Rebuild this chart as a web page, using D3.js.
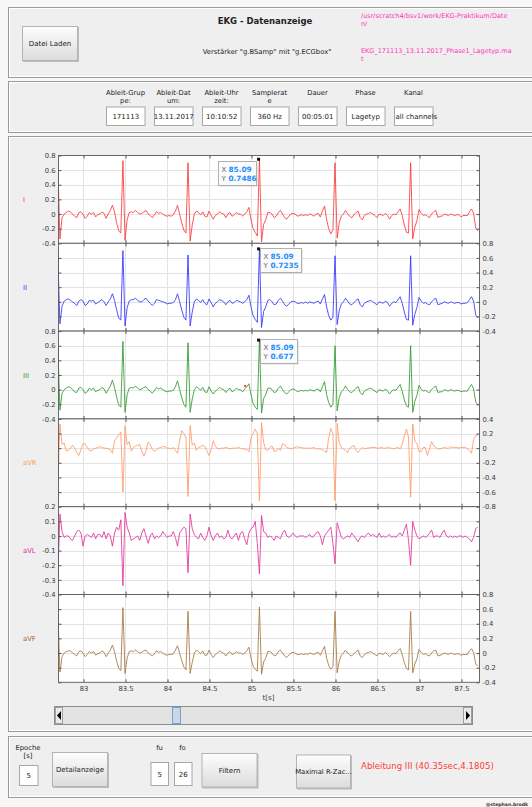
<!DOCTYPE html>
<html><head><meta charset="utf-8">
<script src="https://cdn.jsdelivr.net/npm/d3@7"></script>
<style>
html,body{margin:0;padding:0;background:#f7f7f7;}
svg{display:block;font-family:"DejaVu Sans",sans-serif;}
</style></head><body>
<svg id="c" width="532" height="807"></svg>
<script>
// ---------- DATA ----------
const sampleStart = 82.7;      // s
const samplePeriod = 0.025;    // s (display resampling of the 360 Hz record)
const leadI = [
0.66,-0.34,-0.05,0.00,0.02,0.04,0.03,0.00,-0.03,-0.05,
0.02,0.03,0.00,-0.06,-0.03,0.02,0.00,0.02,-0.04,-0.01,
0.00,0.03,0.01,-0.06,0.00,0.05,0.12,0.03,-0.12,-0.23,
-0.26,0.73,-0.36,-0.08,0.02,0.03,0.02,0.05,0.02,0.00,
0.01,0.03,0.05,0.00,-0.02,-0.05,-0.01,0.03,0.01,0.02,
0.00,-0.02,-0.03,-0.02,-0.03,-0.01,0.04,0.12,0.00,-0.12,
-0.22,-0.26,0.70,-0.37,-0.15,0.00,0.04,0.02,-0.01,0.03,
-0.03,-0.04,0.04,-0.02,-0.07,-0.02,0.00,0.03,0.01,0.00,
-0.05,0.00,0.02,-0.03,-0.01,0.02,0.00,0.00,-0.03,0.00,
0.03,0.09,-0.08,-0.20,-0.25,-0.30,0.75,-0.38,-0.14,-0.08,
0.02,0.02,0.00,-0.05,-0.03,0.02,0.05,0.00,-0.05,-0.07,
-0.03,0.00,0.01,0.00,-0.03,-0.02,-0.01,-0.02,-0.01,-0.02,
0.00,-0.01,-0.03,0.00,0.01,-0.04,0.04,0.11,-0.08,-0.20,
-0.27,-0.22,0.70,-0.33,-0.12,-0.03,0.00,0.05,0.00,-0.03,
-0.05,-0.01,0.02,0.04,-0.05,-0.08,-0.02,0.00,0.01,0.02,
0.00,-0.02,-0.05,0.00,-0.01,-0.02,0.01,-0.02,-0.07,-0.02,
0.00,-0.01,0.03,0.07,-0.02,-0.15,-0.25,-0.26,0.70,-0.34,
-0.18,-0.09,0.06,0.01,-0.02,-0.01,-0.03,-0.05,0.00,0.03,
0.05,-0.05,-0.03,-0.03,0.00,-0.01,-0.02,0.00,-0.01,-0.02,
-0.01,-0.01,-0.04,-0.02,-0.02,-0.02,0.03,0.07,0.01,-0.19,
-0.23];
const leadII = [
0.62,-0.30,-0.06,0.01,0.03,0.04,0.02,0.00,-0.02,-0.05,
0.01,0.03,0.01,-0.05,-0.03,0.02,0.01,0.02,-0.03,-0.01,
0.01,0.03,0.00,-0.05,0.00,0.04,0.11,0.02,-0.11,-0.22,
-0.25,0.70,-0.33,-0.08,0.01,0.03,0.03,0.05,0.02,0.00,
0.00,0.03,0.05,0.01,-0.02,-0.05,-0.02,0.03,0.02,0.01,
0.00,-0.01,-0.03,-0.02,-0.02,-0.01,0.03,0.11,0.00,-0.11,
-0.21,-0.25,0.64,-0.33,-0.14,0.00,0.04,0.02,-0.01,0.03,
-0.02,-0.04,0.04,-0.01,-0.07,-0.02,0.00,0.03,0.02,0.00,
-0.04,0.00,0.02,-0.02,-0.01,0.02,0.01,0.00,-0.02,0.00,
0.03,0.09,-0.07,-0.19,-0.24,-0.28,0.72,-0.35,-0.13,-0.07,
0.02,0.03,0.00,-0.04,-0.03,0.02,0.05,0.01,-0.04,-0.06,
-0.03,0.00,0.01,0.00,-0.02,-0.02,-0.01,-0.02,0.00,-0.02,
0.00,-0.01,-0.02,0.00,0.01,-0.03,0.04,0.10,-0.07,-0.19,
-0.25,-0.21,0.63,-0.31,-0.12,-0.03,0.00,0.05,0.01,-0.03,
-0.04,-0.01,0.02,0.04,-0.04,-0.07,-0.02,0.00,0.01,0.02,
0.00,-0.02,-0.04,0.00,-0.01,-0.02,0.01,-0.01,-0.06,-0.02,
0.00,-0.01,0.03,0.07,-0.02,-0.14,-0.24,-0.25,0.63,-0.32,
-0.17,-0.08,0.06,0.01,-0.02,-0.01,-0.03,-0.04,0.00,0.03,
0.05,-0.04,-0.03,-0.02,0.00,-0.01,-0.02,0.00,-0.01,-0.02,
-0.01,-0.01,-0.03,-0.02,-0.02,-0.01,0.03,0.07,0.01,-0.18,
-0.22];
const leadIII = [
0.61,-0.28,-0.05,0.00,0.02,0.04,0.03,0.00,-0.03,-0.04,
0.02,0.03,0.00,-0.05,-0.03,0.02,0.00,0.02,-0.03,-0.01,
0.00,0.03,0.01,-0.05,0.00,0.05,0.13,0.03,-0.10,-0.21,
-0.24,0.66,-0.31,-0.07,0.02,0.03,0.02,0.05,0.02,0.00,
0.01,0.03,0.04,0.00,-0.02,-0.05,-0.01,0.03,0.01,0.02,
0.00,-0.02,-0.03,-0.02,-0.02,-0.01,0.04,0.12,0.00,-0.11,
-0.20,-0.24,0.64,-0.31,-0.13,0.00,0.04,0.02,-0.01,0.03,
-0.03,-0.04,0.04,-0.02,-0.06,-0.02,0.00,0.03,0.01,0.00,
-0.04,0.00,0.02,-0.03,-0.01,0.02,0.00,0.00,-0.03,0.01,
0.04,0.08,-0.07,-0.19,-0.24,-0.27,0.68,-0.32,-0.12,-0.07,
0.02,0.02,0.00,-0.04,-0.03,0.02,0.05,0.00,-0.04,-0.06,
-0.03,0.00,0.01,0.00,-0.03,-0.02,-0.01,-0.02,-0.01,-0.02,
0.00,-0.01,-0.02,0.00,0.01,-0.03,0.04,0.11,-0.07,-0.18,
-0.24,-0.20,0.60,-0.29,-0.11,-0.03,0.00,0.05,0.00,-0.03,
-0.04,-0.01,0.02,0.04,-0.04,-0.07,-0.02,0.00,0.01,0.02,
0.00,-0.02,-0.04,0.00,-0.01,-0.02,0.01,-0.02,-0.06,-0.02,
0.00,-0.01,0.03,0.07,-0.02,-0.14,-0.22,-0.24,0.60,-0.31,
-0.16,-0.08,0.06,0.01,-0.02,-0.01,-0.03,-0.04,0.00,0.03,
0.05,-0.04,-0.03,-0.03,0.00,-0.01,-0.02,0.00,-0.01,-0.02,
-0.01,-0.01,-0.03,-0.02,-0.02,-0.02,0.03,0.07,0.01,-0.17,
-0.21];
const leadAVR = [
-0.55,0.33,0.05,0.07,-0.04,-0.03,0.00,0.04,0.00,-0.06,
-0.10,-0.02,0.06,0.06,0.01,-0.03,-0.04,-0.01,0.00,0.01,
0.02,0.01,0.00,0.00,-0.01,-0.02,-0.07,0.10,0.14,0.18,
0.22,-0.60,0.30,0.05,0.09,-0.04,0.01,0.03,0.04,0.05,
-0.04,-0.11,-0.04,0.08,0.05,-0.02,-0.04,-0.02,0.00,0.01,
0.02,0.02,0.00,0.00,-0.01,0.01,-0.03,-0.07,0.10,0.24,
0.20,0.15,-0.66,0.31,0.04,0.07,-0.03,0.01,0.02,0.04,
0.02,-0.04,-0.10,-0.02,0.10,0.03,-0.01,-0.01,0.00,0.00,
0.01,0.00,-0.01,0.00,0.00,0.00,0.01,0.00,-0.01,-0.01,
-0.02,-0.05,0.15,0.20,0.26,0.20,-0.72,0.35,0.08,-0.02,
-0.03,0.01,0.03,-0.04,-0.04,0.00,-0.03,0.06,0.05,0.01,
0.00,-0.01,0.00,0.01,0.02,0.01,0.01,0.00,0.00,0.00,
0.00,0.00,0.01,-0.01,-0.01,-0.01,-0.02,-0.04,-0.06,0.14,
0.27,0.20,-0.72,0.34,0.08,0.01,-0.01,-0.03,-0.06,0.00,
0.02,0.04,-0.03,-0.06,-0.02,0.01,-0.01,0.00,0.00,0.01,
0.01,0.01,0.00,0.00,0.01,0.00,0.00,0.01,0.00,0.00,
-0.01,0.00,0.01,-0.01,0.05,0.17,0.26,0.15,-0.67,0.33,
0.10,0.06,-0.04,-0.05,0.01,0.01,-0.10,-0.01,0.09,0.03,
0.01,-0.01,-0.01,0.00,0.01,0.00,0.00,0.02,0.01,0.01,
0.01,0.00,0.01,0.01,0.01,-0.01,-0.03,-0.07,0.12,0.17,
0.18];
const leadAVL = [
-0.28,0.15,0.03,-0.01,0.00,0.00,-0.02,-0.03,0.00,0.03,
0.04,0.02,-0.07,0.00,0.01,0.00,-0.01,0.02,-0.02,0.01,
0.01,-0.01,0.03,-0.02,0.02,0.00,-0.07,0.02,0.06,0.04,
0.11,-0.34,0.16,0.06,0.02,-0.03,-0.02,-0.01,0.00,-0.03,
0.02,0.05,0.00,-0.05,0.00,0.02,-0.02,0.00,-0.01,0.00,
0.03,0.01,-0.01,0.00,0.00,0.03,-0.01,-0.07,0.02,0.04,
0.06,0.05,-0.25,0.15,0.05,0.01,-0.01,-0.02,0.02,-0.01,
-0.03,0.00,0.06,0.00,-0.03,0.00,0.02,-0.01,0.00,-0.02,
-0.01,0.04,-0.01,-0.02,0.00,0.02,-0.03,0.02,0.03,-0.02,
-0.06,0.02,0.05,0.06,0.10,-0.05,-0.26,0.14,0.03,0.02,
-0.01,0.00,-0.01,-0.03,0.00,-0.01,-0.02,0.02,0.04,0.00,
-0.01,0.00,0.02,0.00,-0.01,0.00,0.00,0.00,-0.01,0.00,
0.01,-0.01,0.00,0.02,0.03,0.00,-0.06,0.00,0.02,0.04,
0.06,-0.05,-0.19,0.09,0.04,-0.01,-0.02,-0.01,0.00,-0.01,
0.02,0.00,-0.02,-0.04,-0.01,0.00,-0.01,0.01,0.02,0.00,
0.01,0.00,-0.01,0.02,-0.01,0.00,-0.01,0.00,0.01,-0.01,
0.00,-0.01,0.01,0.02,0.00,0.04,0.08,-0.03,-0.20,0.10,
0.04,0.00,-0.02,-0.01,0.00,-0.01,0.00,0.02,0.04,-0.01,
0.00,0.00,-0.01,0.02,0.04,0.00,-0.01,0.00,-0.01,0.00,
-0.01,0.00,0.00,-0.01,0.00,-0.01,-0.02,-0.04,-0.01,0.05,
0.06];
const leadAVF = [
0.58,-0.26,-0.05,0.00,0.02,0.03,0.03,0.00,-0.02,-0.04,
0.02,0.03,0.00,-0.05,-0.02,0.02,0.00,0.02,-0.03,-0.01,
0.00,0.03,0.01,-0.05,0.00,0.04,0.11,0.02,-0.11,-0.21,
-0.24,0.62,-0.28,-0.07,0.02,0.03,0.02,0.04,0.02,0.00,
0.01,0.03,0.04,0.00,-0.02,-0.04,-0.01,0.03,0.01,0.02,
0.00,-0.02,-0.03,-0.02,-0.02,-0.01,0.04,0.10,0.00,-0.10,
-0.19,-0.23,0.57,-0.28,-0.13,0.00,0.04,0.02,-0.01,0.03,
-0.03,-0.03,0.04,-0.02,-0.06,-0.02,0.00,0.03,0.01,0.00,
-0.04,0.00,0.02,-0.02,-0.01,0.02,0.00,0.00,-0.02,0.00,
0.03,0.08,-0.07,-0.18,-0.22,-0.25,0.63,-0.29,-0.12,-0.07,
0.02,0.02,0.00,-0.04,-0.03,0.02,0.04,0.00,-0.04,-0.06,
-0.03,0.00,0.01,0.00,-0.02,-0.02,-0.01,-0.02,-0.01,-0.02,
0.00,-0.01,-0.02,0.00,0.01,-0.03,0.03,0.09,-0.07,-0.17,
-0.22,-0.19,0.57,-0.27,-0.11,-0.03,0.00,0.04,0.00,-0.03,
-0.04,-0.01,0.02,0.04,-0.04,-0.06,-0.02,0.00,0.01,0.02,
0.00,-0.02,-0.04,0.00,-0.01,-0.02,0.01,-0.02,-0.05,-0.02,
0.00,-0.01,0.03,0.06,-0.02,-0.13,-0.21,-0.23,0.57,-0.27,
-0.15,-0.08,0.05,0.01,-0.02,-0.01,-0.03,-0.04,0.00,0.03,
0.04,-0.04,-0.03,-0.02,0.00,-0.01,-0.02,0.00,-0.01,-0.02,
-0.01,-0.01,-0.03,-0.02,-0.02,-0.02,0.03,0.06,0.01,-0.15,
-0.18];

const leadNames = ["I","II","III","aVR","aVL","aVF"];
const leadValues = [leadI, leadII, leadIII, leadAVR, leadAVL, leadAVF];
const yDomains = [[-0.4,0.8],[-0.4,0.8],[-0.4,0.8],[-0.8,0.4],[-0.4,0.2],[-0.4,0.8]];
const yTicksMain = [-0.4,-0.2,0,0.2,0.4,0.6,0.8];
const yTicksAVR = [-0.8,-0.6,-0.4,-0.2,0,0.2,0.4];
const yTicksAVL = [-0.4,-0.3,-0.2,-0.1,0,0.1,0.2];
const yTickSets = [yTicksMain, yTicksMain, yTicksMain, yTicksAVR, yTicksAVL, yTicksMain];
const xDomain = [82.702, 87.714];
const xTicks = [83, 83.5, 84, 84.5, 85, 85.5, 86, 86.5, 87, 87.5];
const tipX = [85.09, 85.09, 85.09];
const tipY = [0.7486, 0.7235, 0.677];
const infoLabels = [["Ableit-Grup","pe:"],["Ableit-Dat","um:"],["Ableit-Uhr","zeit:"],["Samplerat","e"],["Dauer",""],["Phase",""],["Kanal",""]];
const infoValues = ["171113","13.11.2017","10:10:52","360 Hz","00:05:01","Lagetyp","all channels"];

// ---------- STYLE / LAYOUT ----------
const colors = ["#ff3838","#3434ff","#2e9a2e","#ff9a66","#e2329a","#a8763e"];
const labelColors = ["#ff3030","#3a3aff","#33a033","#ff9a60","#e0309a","#a06a36"];
const plotL = 58, plotR = 479, plotTop = 155.5, plotH = 87.8;
const svg = d3.select("#c");
const defs = svg.append("defs");
const g1 = defs.append("linearGradient").attr("id","btn").attr("x1",0).attr("y1",0).attr("x2",0).attr("y2",1);
g1.append("stop").attr("offset","0%").attr("stop-color","#fdfdfd");
g1.append("stop").attr("offset","100%").attr("stop-color","#dcdcdc");

function panel(y0, y1){
  svg.append("rect").attr("x",8.5).attr("y",y0+0.5).attr("width",600).attr("height",y1-y0)
     .attr("fill","#efefef").attr("stroke","#9a9a9a");
  svg.append("rect").attr("x",9.5).attr("y",y0+1.5).attr("width",600).attr("height",y1-y0-2)
     .attr("fill","none").attr("stroke","#ffffff");
}
panel(7,77); panel(81,132); panel(136,731); panel(736,797);

function button(x,y,w,h,label,fs){
  svg.append("rect").attr("x",x+1).attr("y",y+1).attr("width",w).attr("height",h).attr("fill","#bdbdbd");
  svg.append("rect").attr("x",x+0.5).attr("y",y+0.5).attr("width",w-1).attr("height",h-1)
     .attr("fill","url(#btn)").attr("stroke","#b4b4b4");
  svg.append("text").attr("x",x+w/2).attr("y",y+h/2+2.5).attr("text-anchor","middle")
     .attr("font-size",fs||7).attr("fill","#222").text(label);
}
function editBox(x,y,w,h,label,anchor){
  svg.append("rect").attr("x",x+0.5).attr("y",y+0.5).attr("width",w).attr("height",h)
     .attr("fill","#ffffff").attr("stroke","#a8a8a8");
  const tx = anchor==="start" ? x+1.5 : x+w/2+0.5;
  svg.append("text").attr("x",tx).attr("y",y+h/2+3).attr("text-anchor",anchor||"middle")
     .attr("font-size",7).attr("fill","#222").text(label);
}
function txt(x,y,s,opts){
  const t = svg.append("text").attr("x",x).attr("y",y).attr("font-size",(opts&&opts.fs)||7)
     .attr("fill",(opts&&opts.fill)||"#222").attr("text-anchor",(opts&&opts.anchor)||"start").text(s);
  if(opts&&opts.bold) t.attr("font-weight","bold");
  return t;
}

// top panel
button(22,26,56,35,"Datei Laden",7);
txt(265,24,"EKG - Datenanzeige",{fs:8.5,bold:true,anchor:"middle"});
txt(267,54,"Verstärker \"g.BSamp\" mit \"g.ECGbox\"",{fs:6.8,anchor:"middle"});
txt(361,18,"/usr/scratch4/bsv1/work/EKG-Praktikum/Date",{fs:6.5,fill:"#ff33bb"});
txt(361,26,"n/",{fs:6.5,fill:"#ff33bb"});
txt(361,53,"EKG_171113_13.11.2017_Phase1_Lagetyp.ma",{fs:6.5,fill:"#ff33bb"});
txt(361,61,"t",{fs:6.5,fill:"#ff33bb"});

// info panel
infoLabels.forEach((lab,i)=>{
  const cx = 125.5 + i*48;
  txt(cx,94.5,lab[0],{fs:6.8,anchor:"middle"});
  if(lab[1]) txt(cx,102.5,lab[1],{fs:6.8,anchor:"middle"});
  editBox(cx-19.5,106.5,38.5,18.5,infoValues[i], i===6?"start":"middle");
});

// ---------- PLOTS ----------
const x = d3.scaleLinear().domain(xDomain).range([plotL,plotR]);

leadNames.forEach((name,k)=>{
  const top = plotTop + k*plotH, bot = top + plotH;
  const y = d3.scaleLinear().domain(yDomains[k]).range([bot,top]);
  const ticks = yTickSets[k];
  const g = svg.append("g");
  g.append("rect").attr("x",plotL).attr("y",top).attr("width",plotR-plotL).attr("height",plotH).attr("fill","#fff");
  // grid
  g.selectAll(".hg").data(ticks.filter(v=>v>yDomains[k][0] && v<yDomains[k][1])).enter().append("line")
   .attr("x1",plotL).attr("x2",plotR).attr("y1",d=>Math.round(y(d))+0.5).attr("y2",d=>Math.round(y(d))+0.5)
   .attr("stroke","#e3e3e3");
  g.selectAll(".vg").data(xTicks).enter().append("line")
   .attr("y1",top).attr("y2",bot).attr("x1",d=>Math.round(x(d))+0.5).attr("x2",d=>Math.round(x(d))+0.5)
   .attr("stroke","#e3e3e3");
  // trace
  const data = leadValues[k].map((v,i)=>[sampleStart + i*samplePeriod, v]);
  const clipId = "clip"+k;
  svg.append("clipPath").attr("id",clipId).append("rect").attr("x",plotL).attr("y",top).attr("width",plotR-plotL).attr("height",plotH);
  g.append("path").datum(data).attr("clip-path",`url(#${clipId})`)
   .attr("d", d3.line().x(d=>x(d[0])).y(d=>y(d[1])))
   .attr("fill","none").attr("stroke",colors[k]).attr("stroke-width",0.85).attr("stroke-linejoin","round");
  // y axes
  const labelsLeft = (k%2===0);
  const fmt = d=>String(d);
  const axL = d3.axisLeft(y).tickValues(ticks).tickSizeInner(-3).tickSizeOuter(0).tickPadding(3)
      .tickFormat(labelsLeft ? fmt : "");
  const axR = d3.axisRight(y).tickValues(ticks).tickSizeInner(-3).tickSizeOuter(0).tickPadding(3)
      .tickFormat(labelsLeft ? "" : fmt);
  [[axL,plotL],[axR,plotR]].forEach(([ax,px])=>{
    const a = g.append("g").attr("transform",`translate(${px+0.5},0)`).call(ax);
    a.select(".domain").remove();
    a.selectAll("line").attr("stroke","#555");
    a.selectAll("text").attr("fill","#3a3a3a").attr("font-size",6.8).attr("font-family","DejaVu Sans");
  });
  // x ticks top/bottom
  const axT = d3.axisTop(x).tickValues(xTicks).tickSizeInner(-3).tickSizeOuter(0).tickFormat("");
  const axB = d3.axisBottom(x).tickValues(xTicks).tickSizeInner(-3).tickSizeOuter(0).tickPadding(4)
      .tickFormat(k===5 ? (d=>String(d)) : "");
  const at = g.append("g").attr("transform",`translate(0.5,${top})`).call(axT);
  const ab = g.append("g").attr("transform",`translate(0.5,${bot})`).call(axB);
  [at,ab].forEach(a=>{ a.select(".domain").remove(); a.selectAll("line").attr("stroke","#555");
     a.selectAll("text").attr("fill","#3a3a3a").attr("font-size",6.8).attr("font-family","DejaVu Sans"); });
  // box
  g.append("rect").attr("x",plotL+0.5).attr("y",top).attr("width",plotR-plotL).attr("height",plotH)
   .attr("fill","none").attr("stroke","#5a5a5a").attr("stroke-width",0.9);
  // channel label
  txt(23,(top+bot)/2+2.5,name,{fs:6.8,fill:labelColors[k]});
});
txt((plotL+plotR)/2,699.5,"t[s]",{fs:7,anchor:"middle",fill:"#3a3a3a"});

// small red marker on lead III
(function(){
  const top = plotTop + 2*plotH;
  const y = d3.scaleLinear().domain(yDomains[2]).range([top+plotH,top]);
  svg.append("circle").attr("cx",x(84.93)).attr("cy",y(0.05)).attr("r",1.3).attr("fill","#ff5050");
})();

// data tips
const tipOffsets = [[-41,1.5,38,24],[1.5,-0.5,41,24],[1.5,-1,37,24]];
tipX.forEach((tx,k)=>{
  const top = plotTop + k*plotH;
  const y = d3.scaleLinear().domain(yDomains[k]).range([top+plotH,top]);
  const mx = x(tx), my = y(tipY[k]);
  svg.append("rect").attr("x",mx-1.5).attr("y",my-1.5).attr("width",3).attr("height",3).attr("fill","#111");
  const [ox,oy,w,h] = tipOffsets[k];
  const bx = Math.round(mx+ox)+0.5, by = Math.round(my+oy)+0.5;
  svg.append("rect").attr("x",bx+1).attr("y",by+1).attr("width",w).attr("height",h).attr("fill","#d8d8d8");
  svg.append("rect").attr("x",bx).attr("y",by).attr("width",w).attr("height",h).attr("fill","#fbfbfb").attr("stroke","#b0b0b0");
  txt(bx+3,by+10,"X",{fs:7,fill:"#666"});
  txt(bx+10,by+10,String(tx),{fs:7.3,fill:"#1f8fff",bold:true});
  txt(bx+3,by+19.5,"Y",{fs:7,fill:"#666"});
  txt(bx+10,by+19.5,String(tipY[k]),{fs:7.3,fill:"#1f8fff",bold:true});
});

// scrollbar
svg.append("rect").attr("x",54.5).attr("y",706.5).attr("width",418).attr("height",18).attr("fill","#e3e3e3").attr("stroke","#8c8c8c");
svg.append("rect").attr("x",55.5).attr("y",707.5).attr("width",7).attr("height",16).attr("fill","#eaeaea").attr("stroke","#a0a0a0");
svg.append("rect").attr("x",463.5).attr("y",707.5).attr("width",8).attr("height",16).attr("fill","#eaeaea").attr("stroke","#a0a0a0");
svg.append("path").attr("d","M57,715.5 L61,711 L61,720 Z").attr("fill","#000");
svg.append("path").attr("d","M470,715.5 L466,711 L466,720 Z").attr("fill","#000");
svg.append("rect").attr("x",172.5).attr("y",707.5).attr("width",8).attr("height",16).attr("fill","#c9d7ea").attr("stroke","#7f9dc6");

// bottom panel
txt(28,749.5,"Epoche",{fs:6.8,anchor:"middle"});
txt(28,758,"[s]",{fs:6.8,anchor:"middle"});
editBox(19,765,18.5,20,"5");
button(52,752,56,35,"Detailanzeige",7);
txt(159.5,750,"fu",{fs:6.8,anchor:"middle"});
txt(182.5,750,"fo",{fs:6.8,anchor:"middle"});
editBox(150.5,762,17.5,23,"5");
editBox(174,762,17.5,23,"26");
button(201.5,753,56,34.5,"Filtern",7);
button(296,754.5,55,34,"Maximal R-Zac...",6.8);
txt(361,769,"Ableitung III (40.35sec,4.1805)",{fs:8.6,fill:"#ff3b3b"});
txt(528,805.5,"@stephan.brodk",{fs:4.6,fill:"#333",bold:true,anchor:"end"});
</script>
</body></html>
